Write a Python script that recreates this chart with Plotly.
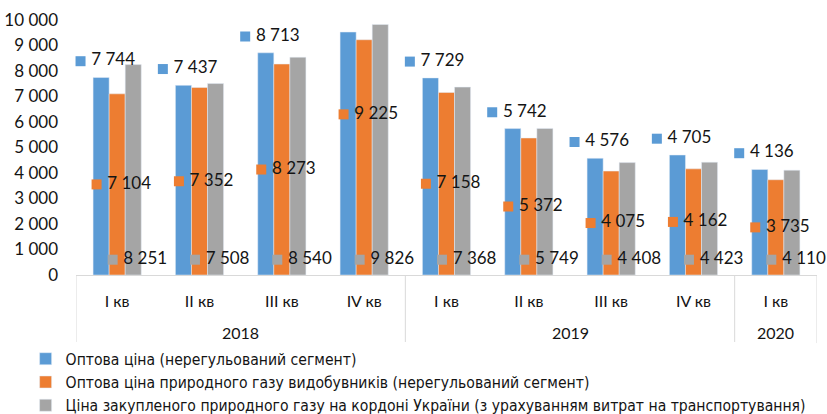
import plotly.graph_objects as go

years = ["2018"] * 4 + ["2019"] * 4 + ["2020"]
quarters = ["I кв", "II кв", "III кв", "IV кв", "I кв", "II кв", "III кв", "IV кв", "I кв"]

names = [
    "Оптова ціна (нерегульований сегмент)",
    "Оптова ціна природного газу видобувників (нерегульований сегмент)",
    "Ціна закупленого природного газу на кордоні України (з урахуванням витрат на транспортування)",
]
wholesale = [7744, 7437, 8713, 9527, 7729, 5742, 4576, 4705, 4136]
producers = [7104, 7352, 8273, 9225, 7158, 5372, 4075, 4162, 3735]
border = [8251, 7508, 8540, 9826, 7368, 5749, 4408, 4423, 4110]

colors = ["#5B9BD5", "#ED7D31", "#A5A5A5"]
series = [wholesale, producers, border]

FONT = "Lato, 'Open Sans', sans-serif"
LEGEND_FONT = "'Liberation Sans Narrow', 'DejaVu Sans Condensed', sans-serif"
TXT = "#141414"
GRID = "#d9d9d9"
BARGAP = 0.415
w = (1 - BARGAP) / 3
idx = list(range(len(quarters)))


def fmt(v):
    return f"{v:,}".replace(",", " ")


fig = go.Figure()
for name, vals, col in zip(names, series, colors):
    fig.add_trace(go.Bar(x=idx, y=vals, name=name, marker_color=col))

# data labels (Excel style with legend key)
label_y = [
    [v + 640 for v in wholesale],
    [v / 2 for v in producers],
    [600 for _ in border],
]
label_y[1][3] = 6300  # label manually moved in the original
for k, (vals, col) in enumerate(zip(series, colors)):
    cx = [i + (k - 1) * w for i in idx]
    fig.add_trace(go.Scatter(
        x=[c - 0.25 for c in cx], y=label_y[k], mode="markers",
        marker=dict(symbol="square", size=10, color=col, line=dict(width=0)),
        showlegend=False, hoverinfo="skip", cliponaxis=False,
    ))
    fig.add_trace(go.Scatter(
        x=[c - 0.12 for c in cx], y=label_y[k], mode="text",
        text=[fmt(v) for v in vals], textposition="middle right",
        textfont=dict(family=FONT, size=17, color=TXT),
        showlegend=False, hoverinfo="skip", cliponaxis=False,
    ))

# year group labels and dividers
groups = []
for i, yv in enumerate(years):
    if not groups or groups[-1][0] != yv:
        groups.append([yv, i, i])
    else:
        groups[-1][2] = i
for yv, a, b in groups:
    fig.add_annotation(x=(a + b) / 2, y=-0.227, xref="x", yref="paper", text=yv,
                       showarrow=False, yanchor="middle",
                       font=dict(family=FONT, size=16, color=TXT))
bounds = [g[1] - 0.5 for g in groups] + [groups[-1][2] + 0.5]
for bx in bounds:
    fig.add_shape(type="line", xref="x", yref="paper", x0=bx, x1=bx, y0=0, y1=-0.267,
                  line=dict(color=GRID, width=1))

fig.update_layout(
    width=827, height=414,
    margin=dict(l=76, r=10, t=20, b=139, autoexpand=False),
    paper_bgcolor="white", plot_bgcolor="white",
    barmode="group", bargap=BARGAP, bargroupgap=0,
    separators=". ",
    font=dict(family=FONT, size=15, color=TXT),
    xaxis=dict(range=[-0.5, 8.5], tickvals=idx, ticktext=quarters, showline=True,
               linecolor=GRID, showgrid=False, zeroline=False, ticks="",
               ticklabelstandoff=12,
               tickfont=dict(family=FONT, size=16, color=TXT)),
    yaxis=dict(range=[0, 10000], tickvals=list(range(0, 10001, 1000)), tickformat=",d",
               showgrid=False, zeroline=False, showline=False, ticks="",
               ticklabelstandoff=17,
               tickfont=dict(family=FONT, size=17, color=TXT)),
    legend=dict(x=-0.068, y=-0.263, xanchor="left", yanchor="top", orientation="v",
                font=dict(family=LEGEND_FONT, size=15.6, color=TXT),
                itemwidth=30, tracegroupgap=0),
)

fig.write_html("out.html", config={"displayModeBar": False},
               post_script="document.body.style.margin='0';document.body.style.overflow='hidden';")
